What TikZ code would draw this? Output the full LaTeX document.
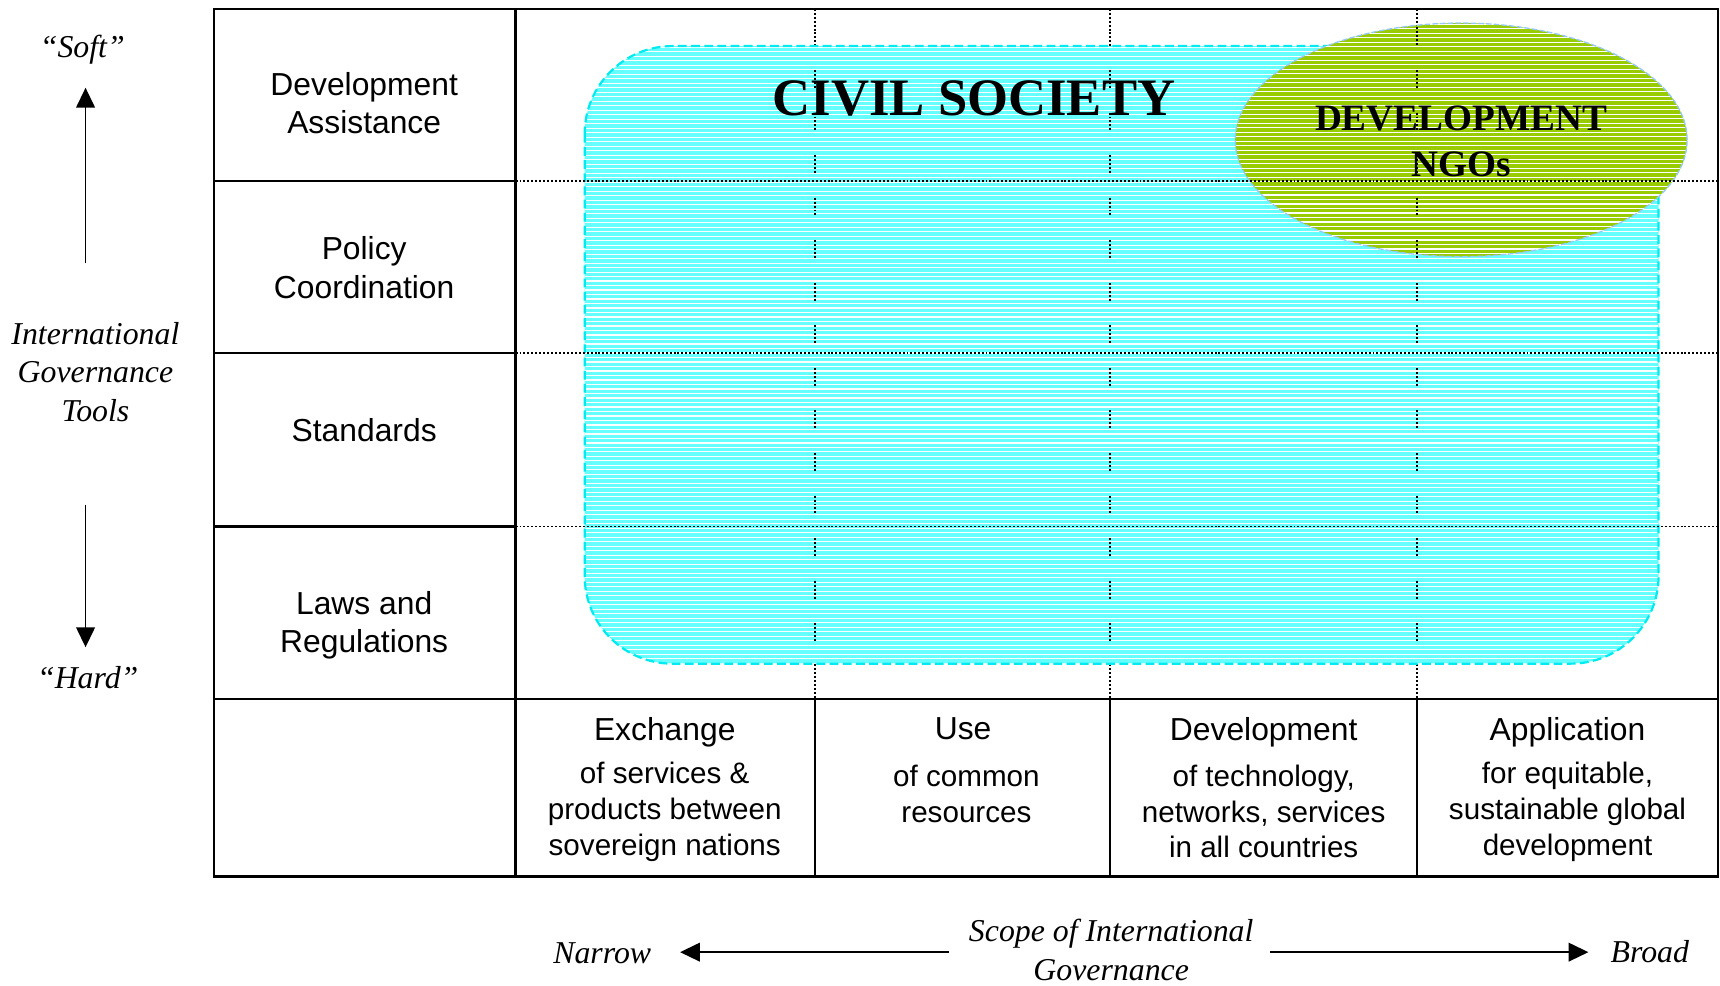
\documentclass[tikz,border=0pt]{standalone}
\usepackage{fontspec}
\setmainfont{Liberation Serif}
\setsansfont{Liberation Sans}
\usetikzlibrary{arrows.meta}
\definecolor{csfill}{RGB}{102,255,255}
\definecolor{csborder}{RGB}{0,235,240}
\definecolor{ngofill}{RGB}{153,204,0}
\definecolor{ngoborder}{RGB}{150,200,255}
\begin{document}
\begin{tikzpicture}[x=1pt,y=-1pt,
  lab/.style={font=\sffamily\fontsize{29}{35}\selectfont, align=center, inner sep=0pt},
  sub/.style={font=\sffamily\fontsize{27}{32.5}\selectfont, align=center, inner sep=0pt},
  itl/.style={font=\itshape\fontsize{29}{35}\selectfont, align=center, inner sep=0pt},
  thickline/.style={line width=2.2pt},
  dotline/.style={line width=1.5pt, dash pattern=on 1.8pt off 1.8pt},
  dotseg/.style={line width=1.5pt, dash pattern=on 1.8pt off 1.8pt on 1.8pt off 1.8pt on 1.8pt off 1.8pt on 1.8pt off 1.8pt on 1.8pt off 22.6pt},
  axisarrow/.style={line width=1.5pt, -{Triangle[length=18pt,width=17pt]}},
  hatch/.style={white, line width=1pt}
]
\useasboundingbox (0,0) rectangle (1568,898);

% ---- dotted column lines (under the regions)
\foreach \x in {743,1012,1292} {
  \draw[dotline] (\x,8) -- (\x,637);
}

% ---- Civil society region
\fill[csfill, rounded corners=80pt] (533,42) rectangle (1512,605);
\begin{scope}
  \clip[rounded corners=80pt] (533,42) rectangle (1512,605);
  \foreach \k in {0,...,138} \draw[hatch] (533,{43+\k*4.1}) -- (1512,{43+\k*4.1});
\end{scope}
\draw[csborder, line width=2pt, dash pattern=on 8pt off 4pt, rounded corners=80pt] (533,42) rectangle (1512,605);

% ---- Development NGOs ellipse
\fill[ngofill] (1332,127.5) ellipse [x radius=206pt, y radius=106.5pt];
\begin{scope}
  \clip (1332,127.5) ellipse [x radius=206pt, y radius=106.5pt];
  \foreach \k in {0,...,54} \draw[hatch] (1126,{22+\k*4.1}) -- (1538,{22+\k*4.1});
\end{scope}
\draw[ngoborder, line width=1.2pt, dash pattern=on 5pt off 2pt] (1332,127.5) ellipse [x radius=206pt, y radius=106.5pt];

% ---- dotted column lines showing through the regions
\begin{scope}
  \clip[rounded corners=80pt] (533,42) rectangle (1512,605);
  \foreach \x in {743,1012,1292} \draw[dotseg] (\x,25) -- (\x,637);
\end{scope}
\begin{scope}
  \clip (1332,127.5) ellipse [x radius=206pt, y radius=106.5pt];
  \draw[dotseg] (1292,25) -- (1292,637);
\end{scope}

% ---- Grid
\foreach \y in {165,322,480} {
  \draw[thickline] (195,\y) -- (470,\y);
  \draw[dotline] (470,\y) -- (1566,\y);
}
\foreach \x in {743,1012,1292} {
  \draw[thickline] (\x,637) -- (\x,799);
}
\draw[thickline] (470,8) -- (470,799);
\draw[thickline] (195,637) -- (1566,637);
\draw[thickline] (195,8) rectangle (1566,799);

% ---- Region labels
\node[font=\bfseries\fontsize{48}{48}\selectfont, inner sep=0pt] (civil) at (888,90) {CIVIL SOCIETY};
\node[font=\bfseries\fontsize{34}{42}\selectfont, align=center, inner sep=0pt] (ngos) at (1332,129) {DEVELOPMENT\\NGOs};

% ---- Row labels
\node[lab] (devassist) at (332,94) {Development\\Assistance};
\node[lab] (policy) at (332,244) {Policy\\Coordination};
\node[lab] (standards) at (332,392) {Standards};
\node[lab] (laws) at (332,570) {Laws and\\Regulations};

% ---- Column labels
\node[lab] (exchange) at (606,667.5) {Exchange};
\node[sub] (exchangesub) at (606,740) {of services \&\\products between\\sovereign nations};
\node[lab] (use) at (878,664.6) {Use};
\node[sub] (usesub) at (881,724) {of common\\resources};
\node[lab] (develop) at (1152,667.5) {Development};
\node[sub] (developsub) at (1152,740) {of technology,\\networks, services\\in all countries};
\node[lab] (application) at (1429,667.5) {Application};
\node[sub] (applicationsub) at (1429,740) {for equitable,\\sustainable global\\development};

% ---- Vertical axis
\node[itl, anchor=base] (soft) at (75,52) {“Soft”};
\node[itl, anchor=base] (hard) at (80,628) {“Hard”};
\node[itl] (tools) at (87,339) {International\\Governance\\Tools};
\coordinate (upstart) at (78,240);
\coordinate (uptip) at (78,80);
\coordinate (downstart) at (78,460);
\coordinate (downtip) at (78,590);
\draw[axisarrow] (upstart) -- (uptip);
\draw[axisarrow] (downstart) -- (downtip);

% ---- Horizontal axis
\node[itl, anchor=base] (narrow) at (549,878) {Narrow};
\node[itl, anchor=base] (broad) at (1504,877) {Broad};
\node[itl] (scope) at (1013,866) {Scope of International\\Governance};
\coordinate (leftstart) at (865,868);
\coordinate (lefttip) at (620,868);
\coordinate (rightstart) at (1158,868);
\coordinate (righttip) at (1448,868);
\draw[axisarrow] (leftstart) -- (lefttip);
\draw[axisarrow] (rightstart) -- (righttip);
\end{tikzpicture}
\end{document}
